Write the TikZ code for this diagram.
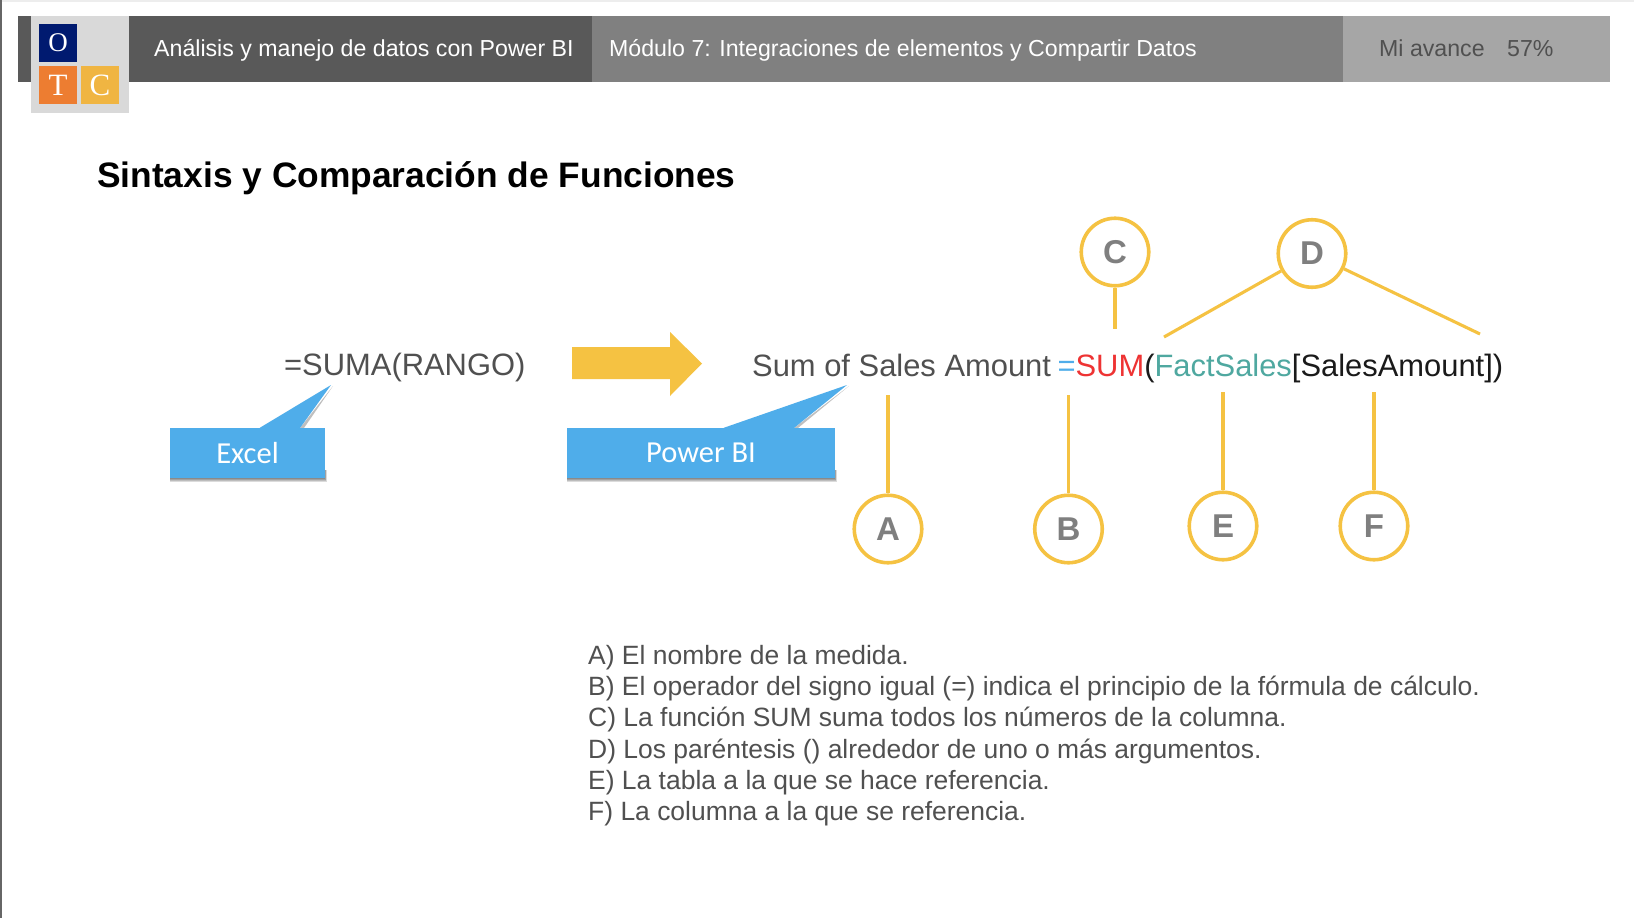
\documentclass[tikz,border=0pt]{standalone}
\usepackage{fontspec}
\setmainfont{Liberation Sans}
\newfontfamily\carlito{Carlito}
\newfontfamily\lserif{Liberation Serif}
\definecolor{bardark}{HTML}{595959}
\definecolor{barmid}{HTML}{808080}
\definecolor{barlight}{HTML}{A6A6A6}
\definecolor{logogray}{HTML}{D9D9D9}
\definecolor{navy}{HTML}{001A70}
\definecolor{orangeT}{HTML}{ED7D31}
\definecolor{goldC}{HTML}{F0B542}
\definecolor{accent}{HTML}{F5C242}
\definecolor{bluebox}{HTML}{4FADEA}
\definecolor{txtgray}{HTML}{505050}
\definecolor{lettergray}{HTML}{7F7F7F}
\definecolor{redsum}{HTML}{EE3333}
\definecolor{tealtab}{HTML}{4FA8A0}
\definecolor{inkblack}{HTML}{1A1A1A}
\definecolor{miavance}{HTML}{505050}
\newcommand{\fs}[1]{\fontsize{#1}{#1}\selectfont}
\tikzset{
  x=1pt,y=-1pt,
  bartext/.style={anchor=base west,inner sep=0pt,text=white,font=\fs{23.15}},
  lettercircle/.style={circle,draw=accent,line width=3.6pt,minimum size=67.5pt,inner sep=0pt,text=lettergray,font=\fs{33}\bfseries},
  leader/.style={draw=accent,line width=3.1pt},
  calloutbox/.style={fill=bluebox,text=white,font=\carlito\fs{30.5},inner sep=0pt},
  softshadow/.style={fill=black,opacity=.14},
  logotile/.style={minimum size=38pt,inner sep=0pt,text=white,font=\lserif\fs{31}},
  listline/.style={anchor=base west,inner sep=0pt,text=txtgray,font=\fs{26.45}},
  formula/.style={anchor=base west,inner sep=0pt,font=\fs{30.9}}
}
\begin{document}
\begin{tikzpicture}
\useasboundingbox (0,0) rectangle (1634,918);
\fill[white] (0,0) rectangle (1634,918);
\fill[black!7] (0,0) rectangle (1634,2);
\fill[black!60] (0,0) rectangle (2,918);
% header
\fill[bardark] (18,16) rectangle (592,82);
\fill[barmid] (592,16) rectangle (1343,82);
\fill[barlight] (1343,16) rectangle (1610,82);
\fill[logogray] (31,16) rectangle (129,113);
\node[logotile,fill=navy,font=\lserif\fs{27}] (tileO) at (58,43) {O};
\node[logotile,fill=orangeT] (tileT) at (58,85) {T};
\node[logotile,fill=goldC] (tileC) at (100,85) {C};
\node[bartext] (course) at (154,56.5) {Análisis y manejo de datos con Power BI};
\node[bartext] (module) at (609,56.5) {Módulo 7: Integraciones de elementos y Compartir Datos};
\node[bartext,text=miavance] (progress) at (1379,56.5) {Mi avance};
\node[bartext,text=miavance] (percent) at (1507,56.5) {57\%};
% title
\node[anchor=base west,inner sep=0pt,text=black,font=\fs{35.35}\bfseries] (title) at (97,187) {Sintaxis y Comparación de Funciones};
% formulas
\node[formula,text=txtgray] (excelf) at (284,375) {=SUMA(RANGO)};
\node[formula] (pbif) at (752,376) {\textcolor{txtgray}{Sum of Sales Amount}\hspace{6.5pt}\textcolor{bluebox}{=}\textcolor{redsum}{SUM}\textcolor{inkblack}{(}\textcolor{tealtab}{FactSales}\textcolor{inkblack}{[SalesAmount])}};
% arrow
\fill[accent] (572,347) -- (670,347) -- (670,332) -- (702,363.5) -- (670,396) -- (670,379) -- (572,379) -- cycle;
% callout shadows
\foreach \d in {0,1,2,3}{
  \fill[softshadow] (170,470) rectangle (325+\d/2,479+\d);
  \fill[softshadow] (567,470) rectangle (835+\d/2,479+\d);
}
\fill[black,opacity=.25] (300,428) -- (333,386) -- (304,428) -- cycle;
\fill[black,opacity=.25] (794,428) -- (849,386) -- (798,428) -- cycle;
% callouts
\node[calloutbox,minimum width=155pt,minimum height=50pt] (excel) at (247.5,453) {Excel};
\node[calloutbox,minimum width=268pt,minimum height=50pt] (pbi) at (701,453) {Power BI};
\coordinate (excelTip) at (331,385);
\coordinate (pbiTip) at (847,385);
\fill[bluebox] (excel.north west) ++(90,0) -- (excelTip) -- ++(-31,43) -- cycle;
\fill[bluebox] (pbi.north west) ++(157,0) -- (pbiTip) -- ++(-53,43) -- cycle;
% circles
\node[lettercircle] (A) at (888,529) {A};
\node[lettercircle] (B) at (1068.5,529) {B};
\node[lettercircle] (C) at (1115,252) {C};
\node[lettercircle] (D) at (1312,253.5) {D};
\node[lettercircle] (E) at (1223,526) {E};
\node[lettercircle] (F) at (1374,526) {F};
\coordinate (Aend) at (888,395);
\coordinate (Bend) at (1068.5,395);
\coordinate (Cend) at (1115,329);
\coordinate (Dl) at (1164,337);
\coordinate (Dr) at (1480,334);
\coordinate (Eend) at (1223,392);
\coordinate (Fend) at (1374,392);
\draw[leader] (A) -- (Aend);
\draw[leader] (B) -- (Bend);
\draw[leader] (C) -- (Cend);
\draw[leader] (D) -- (Dl);
\draw[leader] (D) -- (Dr);
\draw[leader] (E) -- (Eend);
\draw[leader] (F) -- (Fend);
% list
\node[listline] (la) at (588,664) {A) El nombre de la medida.};
\node[listline] (lb) at (588,695) {B) El operador del signo igual (=) indica el principio de la fórmula de cálculo.};
\node[listline] (lc) at (588,726) {C) La función SUM suma todos los números de la columna.};
\node[listline] (ld) at (588,758) {D) Los paréntesis () alrededor de uno o más argumentos.};
\node[listline] (le) at (588,789) {E) La tabla a la que se hace referencia.};
\node[listline] (lf) at (588,820) {F) La columna a la que se referencia.};
\end{tikzpicture}
\end{document}
